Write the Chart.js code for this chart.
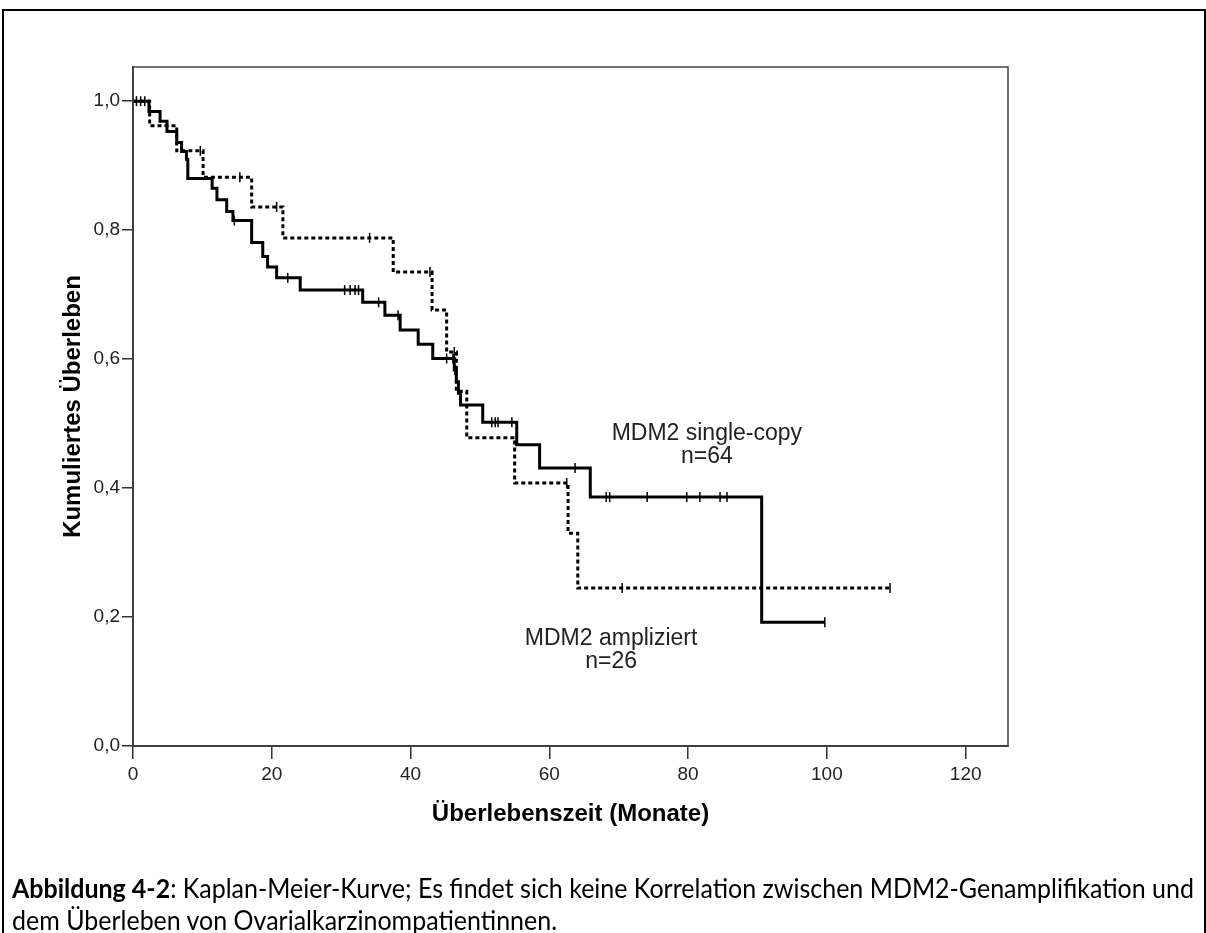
<!DOCTYPE html>
<html>
<head>
<meta charset="utf-8">
<script src="https://cdn.jsdelivr.net/npm/chart.js@4.4.1/dist/chart.umd.min.js"></script>
<style>
  html, body { margin: 0; padding: 0; background: #fff; overflow: hidden; }
  body { width: 1206px; height: 933px; position: relative; }
  #frame { position: absolute; left: 2px; top: 9px; width: 1200px; height: 1000px; border: 2px solid #000; }
  #c { position: absolute; left: 0; top: 0; }
  #caption { position: absolute; left: 12px; top: 872px; font-family: Lato, "Open Sans", sans-serif; font-size: 26px; line-height: 32px; color: #000; white-space: nowrap; }
  #caption div { transform-origin: 0 50%; }
  #caption b { font-weight: bold; }
</style>
</head>
<body>
<div id="frame"></div>
<canvas id="c" width="1206" height="933"></canvas>
<div id="caption">
  <div id="line1"><b>Abbildung 4-2</b>: Kaplan-Meier-Kurve; Es findet sich keine Korrelation zwischen MDM2-Genamplifikation und</div>
  <div id="line2">dem Überleben von Ovarialkarzinompatientinnen.</div>
</div>
<script>
"use strict";

// MDM2 single-copy (n=64): event times (months) and survival after each step
const singleTimes = [0, 2.3, 3.9, 4.9, 6.3, 7.0, 7.7, 7.9, 11.4, 12.1, 13.5, 14.4, 17.1, 18.7, 19.4, 20.7, 24.1,
    33.1, 36.3, 38.5, 41.1, 43.2, 46.3, 46.6, 46.9, 47.2, 50.4, 55.3, 58.6, 65.9, 90.6];
const singleSurv = [1, 0.984, 0.969, 0.953, 0.936, 0.922, 0.91, 0.88, 0.865, 0.847, 0.829, 0.815, 0.781, 0.759, 0.743, 0.726, 0.707,
    0.688, 0.668, 0.645, 0.623, 0.601, 0.583, 0.565, 0.547, 0.529, 0.502, 0.467, 0.431, 0.386, 0.192];
const singleEnd = 99.7;
const singleCensor = [0.5, 1.1, 1.7, 14.6, 22.3, 30.5, 31.3, 32.0, 32.5, 35.4, 38.2, 45.2, 46.1, 46.4,
    51.7, 52.2, 52.6, 54.6, 63.7, 68.2, 68.7, 74.1, 79.8, 81.7, 84.6, 85.6, 99.7];

// MDM2 ampliziert (n=26)
const ampTimes = [0, 2.4, 6.3, 10.1, 17.1, 21.6, 37.5, 43.1, 45.2, 46.6, 48.1, 55.0, 62.7, 64.1];
const ampSurv = [1, 0.962, 0.923, 0.882, 0.836, 0.788, 0.735, 0.676, 0.611, 0.55, 0.478, 0.408, 0.33, 0.245];
const ampEnd = 109.1;
const ampCensor = [9.7, 15.4, 20.7, 34.1, 42.8, 46.3, 62.5, 70.5, 90.6, 109.1];

const xTicks = [0, 20, 40, 60, 80, 100, 120];
const yTicks = [0, 0.2, 0.4, 0.6, 0.8, 1.0];
const groupNames = ["MDM2 single-copy", "MDM2 ampliziert"];
const groupCounts = ["n=64", "n=26"];

function stepPoints(times, surv, end) {
    let pts = times.map((t, i) => ({x: t, y: surv[i]}));
    pts.push({x: end, y: surv[surv.length - 1]});
    return pts;
}
function survAt(times, surv, t) {
    let s = 1;
    for (let i = 0; i < times.length; i++) {
        if (times[i] <= t) s = surv[i];
    }
    return s;
}
function censorPoints(c, times, surv) {
    return c.map(t => ({x: t, y: survAt(times, surv, t)}));
}

// frame round the plot and the two curve labels
const extras = {
    id: "extras",
    afterDraw(chart) {
        const {ctx, chartArea: a, scales: {x, y}} = chart;
        ctx.save();
        ctx.strokeStyle = "#444";
        ctx.lineWidth = 1.5;
        ctx.strokeRect(a.left, a.top, a.right - a.left, a.bottom - a.top);

        ctx.fillStyle = "#222";
        ctx.font = "23px 'Liberation Sans', Arial, sans-serif";
        ctx.textAlign = "center";
        ctx.textBaseline = "middle";
        const at = [[82.7, 0.485], [68.9, 0.167]];
        at.forEach((p, i) => {
            const px = x.getPixelForValue(p[0]);
            const py = y.getPixelForValue(p[1]);
            ctx.fillText(groupNames[i], px, py);
            ctx.fillText(groupCounts[i], px, py + 23);
        });
        ctx.restore();
    }
};

const tickFont = {family: "'Liberation Sans', Arial, sans-serif", size: 19};
const titleFont = {family: "'Liberation Sans', Arial, sans-serif", size: 24, weight: "bold"};

new Chart(document.getElementById("c").getContext("2d"), {
    type: "line",
    data: {
        datasets: [
            {
                label: groupNames[0],
                data: stepPoints(singleTimes, singleSurv, singleEnd),
                stepped: true,
                borderColor: "#000",
                borderWidth: 3,
                pointRadius: 0,
                fill: false
            },
            {
                label: groupNames[1],
                data: stepPoints(ampTimes, ampSurv, ampEnd),
                stepped: true,
                borderColor: "#000",
                borderWidth: 3,
                borderDash: [4, 3],
                pointRadius: 0,
                fill: false
            },
            {
                label: "zensiert single-copy",
                data: censorPoints(singleCensor, singleTimes, singleSurv),
                showLine: false,
                pointStyle: "line",
                rotation: 90,
                pointRadius: 5,
                borderColor: "#000",
                borderWidth: 1.5
            },
            {
                label: "zensiert ampliziert",
                data: censorPoints(ampCensor, ampTimes, ampSurv),
                showLine: false,
                pointStyle: "line",
                rotation: 90,
                pointRadius: 5,
                borderColor: "#000",
                borderWidth: 1.5
            }
        ]
    },
    options: {
        responsive: false,
        animation: false,
        layout: {padding: {left: 0, top: 67, right: 198, bottom: 102}},
        plugins: {legend: {display: false}, tooltip: {enabled: false}},
        scales: {
            x: {
                type: "linear",
                min: 0,
                max: 126.1,
                afterBuildTicks: (s) => { s.ticks = xTicks.map(v => ({value: v})); },
                afterFit: (s) => { s.height = 85; },
                grid: {display: true, drawOnChartArea: false, drawTicks: true, tickLength: 13, color: "#333", lineWidth: 1.5},
                border: {display: true, color: "#333", width: 2},
                ticks: {font: tickFont, color: "#222", padding: 4, maxRotation: 0, callback: v => String(v)},
                title: {display: true, text: "Überlebenszeit (Monate)", font: titleFont, color: "#000", padding: {top: 0, bottom: 2}}
            },
            y: {
                type: "linear",
                min: 0,
                max: 1.053,
                afterBuildTicks: (s) => { s.ticks = yTicks.map(v => ({value: v})); },
                afterFit: (s) => { s.width = 133; },
                grid: {display: true, drawOnChartArea: false, drawTicks: true, tickLength: 11, color: "#333", lineWidth: 1.5},
                border: {display: true, color: "#333", width: 2},
                ticks: {font: tickFont, color: "#222", padding: 2, callback: v => v.toFixed(1).replace(".", ",")},
                title: {display: true, text: "Kumuliertes Überleben", font: titleFont, color: "#000", padding: {top: 59, bottom: 0}}
            }
        }
    },
    plugins: [extras]
});

// squeeze the caption lines so the first one spans the figure box, as the narrow original font does
const line1 = document.getElementById("line1");
const line2 = document.getElementById("line2");
line1.style.display = "inline-block";
const k = 1182 / line1.getBoundingClientRect().width;
line1.style.display = "block";
line1.style.transform = "scaleX(" + k.toFixed(4) + ")";
line2.style.transform = "scaleX(" + k.toFixed(4) + ")";
</script>
</body>
</html>
